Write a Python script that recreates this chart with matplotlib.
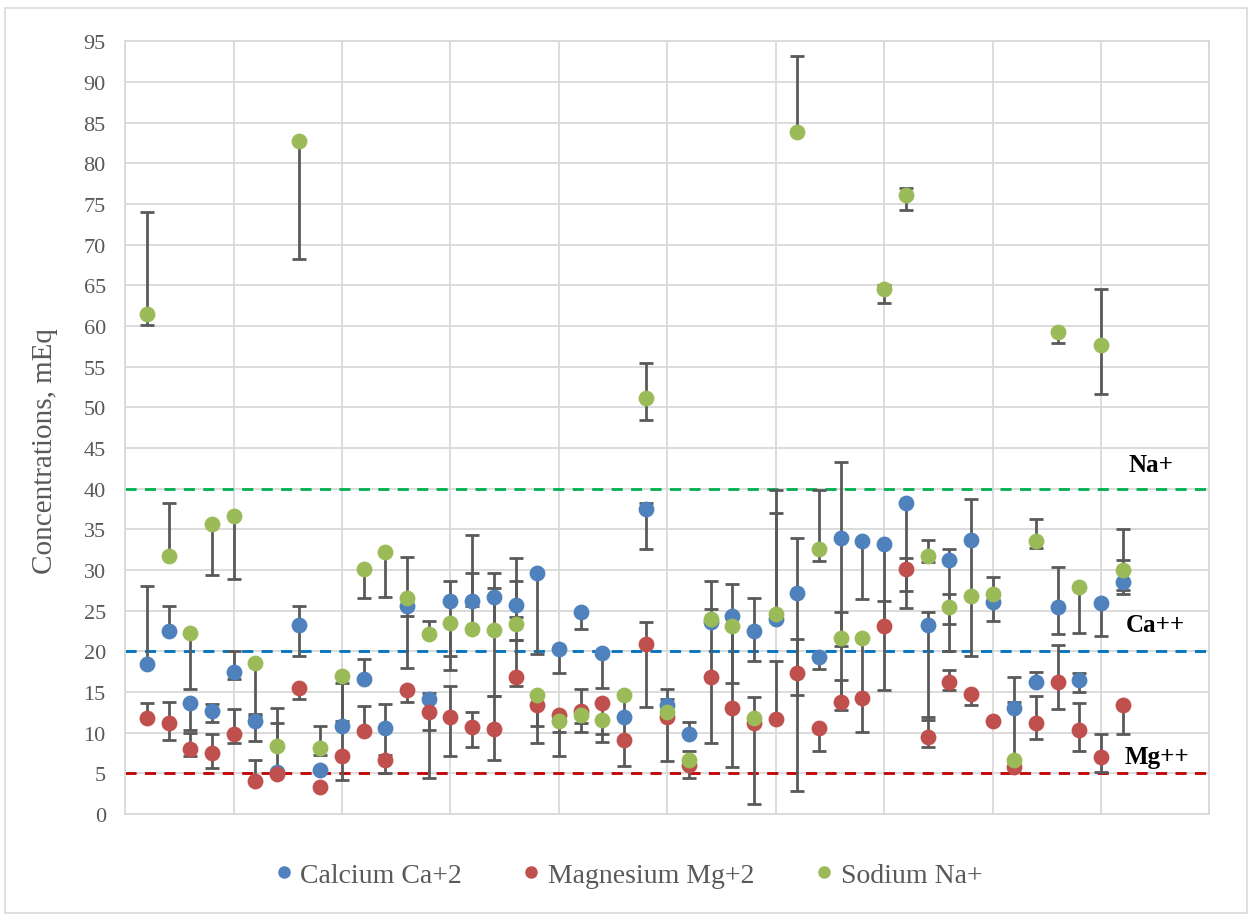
import matplotlib
matplotlib.use("Agg")
import matplotlib.pyplot as plt
from matplotlib.lines import Line2D
from matplotlib.patches import Rectangle
import numpy as np

plt.rcParams['font.family'] = ['Liberation Serif', 'DejaVu Serif']

# sample number 1..46
samples = list(range(1, 47))

# Calcium Ca+2
ca = [18.4, 22.5, 13.6, 12.7, 17.5, 11.4, 5.2, 23.2, 5.4, 10.8,
      16.6, 10.6, 25.6, 14.2, 26.2, 26.2, 26.7, 25.7, 29.6, 20.3,
      24.8, 19.8, 11.9, 37.5, 13.4, 9.8, 23.6, 24.4, 22.5, 24.0,
      27.2, 19.3, 34.0, 33.6, 33.2, 38.2, 23.2, 31.3, 33.7, 26.1,
      13.1, 16.2, 25.5, 16.5, 25.9, 28.5]
ca_lo = [None, None, 10.3, 11.3, 16.6, 9.0, None, 19.4, None, 4.2,
         None, 7.3, 18.0, 10.3, 17.7, 25.6, 14.5, 24.2, 19.7, 17.3,
         22.8, 15.5, None, 32.6, None, None, 8.8, 5.8, 18.8, None,
         14.7, 17.9, 12.8, 26.5, 15.3, 25.3, 11.6, 20.0, 19.4, 23.7,
         None, None, 22.2, 15.0, 21.9, 27.0]
ca_hi = [28.0, 25.6, None, 13.5, 20.0, 12.1, 13.1, 25.6, None, 16.1,
         19.1, 13.5, None, 14.9, 28.6, 34.3, 29.6, 31.5, None, None,
         None, None, None, 38.3, 15.4, 11.3, 28.6, 28.3, 26.6, 37.0,
         34.0, None, 43.3, None, None, None, 24.9, 32.6, 38.7, 29.2,
         16.8, 17.5, 30.4, 17.4, None, 31.3]

# Magnesium Mg+2
mg = [11.8, 11.2, 8.0, 7.5, 9.9, 4.1, 4.9, 15.5, 3.3, 7.2,
      10.2, 6.6, 15.3, 12.5, 12.0, 10.7, 10.5, 16.8, 13.4, 12.2,
      12.7, 13.6, 9.1, 20.9, 11.9, 6.0, 16.8, 13.0, 11.2, 11.7,
      17.3, 10.6, 13.8, 14.3, 23.1, 30.1, 9.5, 16.2, 14.8, 11.4,
      5.8, 11.2, 16.3, 10.3, 7.0, 13.4]
mg_lo = [None, 9.1, 7.2, 5.7, 8.8, None, None, 14.2, None, None,
         None, 5.0, 13.8, 4.5, 7.2, 8.3, 6.7, 15.7, 8.7, 7.1,
         10.1, 8.9, None, 13.2, 6.5, 4.4, None, None, 1.3, None,
         2.8, 7.7, None, None, None, 27.4, 8.3, 15.3, 13.4, None,
         None, 9.2, 12.9, 7.8, 5.2, 9.9]
mg_hi = [13.6, 13.8, 10.0, 9.8, 12.9, 6.6, None, None, None, None,
         13.3, None, None, None, 15.7, 12.6, 14.5, 21.4, None, None,
         15.4, None, None, 23.6, None, None, None, None, 14.4, 18.8,
         21.5, None, 16.5, None, 26.2, 31.5, 11.9, 17.7, None, None,
         None, 14.5, 20.8, 13.6, 9.9, None]

# Sodium Na+
na = [61.5, 31.7, 22.3, 35.7, 36.6, 18.6, 8.4, 82.8, 8.1, 17.0,
      30.1, 32.2, 26.6, 22.1, 23.5, 22.8, 22.6, 23.4, 14.7, 11.4,
      12.2, 11.6, 14.6, 51.1, 12.5, 6.7, 24.0, 23.1, 11.8, 24.6,
      83.8, 32.6, 21.7, 21.6, 64.5, 76.1, 31.7, 25.5, 26.8, 27.1,
      6.6, 33.6, 59.3, 27.9, 57.7, 30.0]
na_lo = [60.1, None, 15.4, 29.4, 28.9, 12.3, None, 68.2, 7.3, 11.4,
         26.6, 26.7, 24.4, None, 19.4, None, None, 21.4, 10.8, 10.1,
         11.2, 9.9, 5.9, 48.4, None, None, None, 16.1, None, None,
         None, 31.1, 20.7, 10.1, 62.8, 74.3, 31.0, 23.4, None, None,
         None, 32.7, 57.9, 22.3, 51.6, 27.6]
na_hi = [74.0, 38.3, None, None, None, None, 11.2, None, 10.8, None,
         None, None, 31.6, 23.8, None, 29.7, 27.8, 28.7, None, None,
         None, None, None, 55.4, 14.1, 7.8, 25.2, None, None, 39.9,
         93.2, 39.8, 24.9, None, 65.0, 77.0, 33.7, 27.0, None, None,
         13.8, 36.3, 59.5, None, 64.6, 35.0]

labels = ["Calcium Ca+2", "Magnesium Mg+2", "Sodium Na+"]
colors = ["#4F81BD", "#C0504D", "#9BBB59"]

# guide levels
limits = [40, 20, 5]
limit_names = ["Na+", "Ca++", "Mg++"]
limit_colors = ["#00B050", "#0070C0", "#C00000"]

fig = plt.figure(figsize=(12.52, 9.2), dpi=100)
ax = fig.add_axes([0.1, 0.114, 0.866, 0.84])

x = np.array(samples)
series = [(ca, ca_lo, ca_hi), (mg, mg_lo, mg_hi), (na, na_lo, na_hi)]

for (vals, lo, hi), col in zip(series, colors):
    v = np.array(vals, dtype=float)
    lo = np.array([a if a is not None else b for a, b in zip(lo, vals)], dtype=float)
    hi = np.array([a if a is not None else b for a, b in zip(hi, vals)], dtype=float)
    ax.errorbar(x, v, yerr=[v - lo, hi - v], fmt='none', ecolor='#595959',
                elinewidth=2, capsize=5, capthick=2, zorder=3)
    ax.scatter(x, v, s=130, color=col, zorder=4, linewidths=0)

for lvl, name, col in zip(limits, limit_names, limit_colors):
    ax.axhline(lvl, color=col, lw=2, ls=(0, (4, 3)), zorder=2)

ax.text(47.3, 43.0, "Na+", fontsize=18, fontweight='bold', ha='center', va='center')
ax.text(47.5, 23.3, "Ca++", fontsize=18, fontweight='bold', ha='center', va='center')
ax.text(47.6, 7.1, "Mg++", fontsize=18, fontweight='bold', ha='center', va='center')

ax.set_xlim(0, 50)
ax.set_ylim(0, 95)
ax.set_xticks(np.arange(0, 51, 5))
ax.set_xticklabels([])
ax.set_yticks(np.arange(0, 96, 5))
ax.grid(True, color='#D9D9D9', lw=1.3, zorder=0)
ax.set_axisbelow(True)
ax.tick_params(length=0, labelsize=16, labelcolor='#595959', pad=14)
for s in ax.spines.values():
    s.set_color('#D9D9D9')
    s.set_linewidth(1.3)

ax.set_ylabel("Concentrations, mEq", fontsize=21, color='#595959')
ax.yaxis.set_label_coords(-0.062, 0.471)

handles = [Line2D([], [], marker='o', ls='none', color=c, markersize=8) for c in colors]
fig.legend(handles, labels, loc='center', bbox_to_anchor=(0.5, 0.048), ncol=3,
           frameon=False, fontsize=20, labelcolor='#595959', handletextpad=0.1,
           columnspacing=2.0, handlelength=1.0)

fig.patches.append(Rectangle((0.004, 0.006), 0.992, 0.984, transform=fig.transFigure,
                             fill=False, edgecolor='#D9D9D9', lw=1.2))

fig.savefig("out.png", dpi=100)
